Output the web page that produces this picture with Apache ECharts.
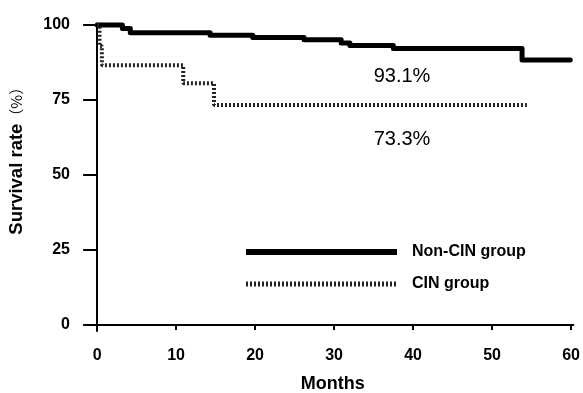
<!DOCTYPE html>
<html><head><meta charset="utf-8">
<script src="https://cdn.jsdelivr.net/npm/echarts@6/dist/echarts.min.js"></script>
<style>html,body{margin:0;padding:0;background:#fff}#c{width:583px;height:393px}</style>
</head><body><div id="c"></div>
<script>
const xTicks = [0, 10, 20, 30, 40, 50, 60];
const yTicks = [0, 25, 50, 75, 100];
const nonCinMonths = [0, 3.2, 4.2, 14.3, 19.7, 26.2, 30.9, 32.0, 37.5, 53.8, 59.9];
const nonCinSurvival = [100, 98.8, 97.4, 96.6, 95.8, 95.1, 94.0, 93.2, 92.2, 88.3, 88.3];
const cinMonths = [0, 0.3, 0.6, 10.9, 14.8, 54.4];
const cinSurvival = [100, 93, 86.6, 80.6, 73.3, 73.3];
const seriesNames = ['Non-CIN group', 'CIN group'];
const annotations = [{name: '93.1%', coord: [38.6, 82.9]}, {name: '73.3%', coord: [38.6, 62.0]}];

const F = 'Liberation Sans, Arial, sans-serif';
const solidStyle = {color: '#000', width: 5, cap: 'round', join: 'round'};
const dotStyle = {color: '#222', width: 4, type: [2, 2], cap: 'butt'};
const chart = echarts.init(document.getElementById('c'));
chart.setOption({
  animation: false,
  grid: {left: 92, right: 9.6, top: 23.5, bottom: 62, containLabel: false, outerBoundsMode: 'none'},
  legend: {
    orient: 'vertical', left: 238, top: 239, itemWidth: 151, itemHeight: 14, itemGap: 16,
    data: [
      {name: seriesNames[0], itemStyle: {opacity: 0}, lineStyle: {color: '#000', width: 6, cap: 'butt'}},
      {name: seriesNames[1], itemStyle: {opacity: 0}, lineStyle: {color: '#222', width: 5, type: [2, 2], cap: 'butt'}}
    ],
    textStyle: {fontFamily: F, fontWeight: 'bold', fontSize: 16, color: '#000', padding: [0,0,0,10]}
  },
  xAxis: {
    type: 'value', min: -0.65, max: 60.3,
    name: 'Months', nameLocation: 'middle', nameGap: 44,
    nameTextStyle: {fontFamily: F, fontWeight: 'bold', fontSize: 18, color: '#000'},
    splitLine: {show: false},
    axisLine: {show: true, lineStyle: {color: '#000', width: 2}},
    axisTick: {show: true, length: 5, lineStyle: {color: '#000', width: 2}, customValues: xTicks},
    axisLabel: {margin: 17, fontFamily: F, fontWeight: 'bold', fontSize: 16, color: '#000', customValues: xTicks}
  },
  yAxis: {
    type: 'value', min: -2, max: 100.5,
    name: '{b|Survival rate}{n|（%）}', nameLocation: 'middle', nameGap: 66, nameRotate: 90,
    nameTextStyle: {padding: [0, 0, 0, 40], rich: {
      b: {fontFamily: F, fontWeight: 'bold', fontSize: 18.5, color: '#000'},
      n: {fontFamily: 'Noto Sans CJK SC, sans-serif', fontSize: 15, color: '#000'}
    }},
    splitLine: {show: false},
    axisLine: {show: true, lineStyle: {color: '#000', width: 2}},
    axisTick: {show: true, length: 14, lineStyle: {color: '#000', width: 2}, customValues: yTicks},
    axisLabel: {margin: 22, fontFamily: F, fontWeight: 'bold', fontSize: 16, color: '#000', customValues: yTicks}
  },
  series: [
    {
      name: seriesNames[0], type: 'line', step: 'end', symbol: 'none',
      data: nonCinMonths.map((m, i) => [m, nonCinSurvival[i]]),
      lineStyle: solidStyle,
      itemStyle: {color: '#000'},
      markPoint: {
        symbol: 'circle', symbolSize: 0,
        label: {show: true, position: 'inside', formatter: p => p.name, fontFamily: F, fontSize: 20, color: '#000'},
        data: annotations.map(a => ({name: a.name, coord: a.coord}))
      }
    },
    {
      name: seriesNames[1], type: 'line', step: 'end', symbol: 'none',
      data: cinMonths.map((m, i) => [m, cinSurvival[i]]),
      lineStyle: dotStyle,
      itemStyle: {color: '#222'}
    }
  ]
});
</script></body></html>
